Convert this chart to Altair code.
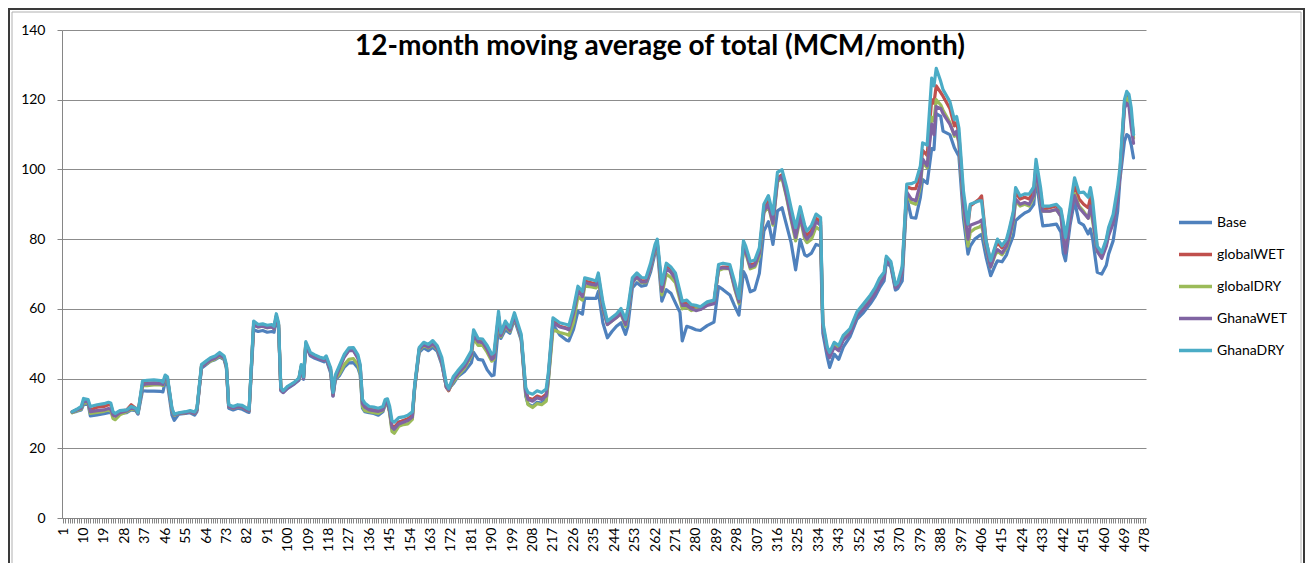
import altair as alt
import pandas as pd

TITLE = "12-month moving average of total (MCM/month)"
series_names = ["Base", "globalWET", "globalDRY", "GhanaWET", "GhanaDRY"]
colors = ["#4F81BD", "#C0504D", "#9BBB59", "#8064A2", "#4BACC6"]
x_ticks = list(range(1, 479))
y_ticks = [0, 20, 40, 60, 80, 100, 120, 140]

months = [5, 7, 9, 10, 12, 13, 16, 19, 21, 22, 23, 24, 26, 29, 31, 33, 34, 36, 38, 41,
          44, 45, 46, 47, 49, 50, 52, 55, 57, 59, 60, 62, 64, 66, 68, 70, 72, 73, 74, 76,
          78, 80, 82, 83, 85, 87, 89, 91, 93, 94, 95, 96, 97, 98, 100, 103, 105, 106, 107, 108,
          110, 112, 114, 116, 117, 119, 120, 121, 123, 125, 127, 129, 131, 132, 133, 134, 136, 138, 140, 142,
          143, 144, 145, 146, 147, 149, 151, 153, 155, 156, 158, 160, 162, 164, 166, 168, 170, 171, 173, 175,
          178, 181, 182, 184, 186, 188, 190, 191, 193, 194, 196, 198, 200, 203, 205, 206, 208, 210, 212, 214,
          215, 217, 220, 223, 224, 226, 228, 230, 231, 234, 236, 237, 239, 241, 243, 245, 247, 249, 250, 252,
          254, 256, 258, 260, 262, 263, 265, 267, 269, 271, 273, 274, 276, 278, 280, 282, 285, 288, 290, 292,
          295, 297, 299, 301, 302, 304, 306, 308, 310, 312, 314, 316, 318, 320, 322, 324, 326, 328, 329, 331,
          333, 335, 336, 338, 339, 341, 343, 345, 348, 351, 354, 357, 359, 361, 363, 364, 366, 368, 369, 371,
          373, 375, 377, 379, 380, 382, 384, 385, 386, 388, 389, 392, 394, 395, 396, 398, 400, 401, 403, 405,
          406, 408, 410, 412, 413, 415, 417, 418, 420, 421, 423, 425, 427, 429, 430, 432, 433, 436, 439, 441,
          442, 443, 445, 447, 449, 451, 453, 454, 455, 457, 459, 461, 462, 464, 466, 467, 469, 470, 471, 472,
          473]

ghana_dry = [30.5, 31.2, 32.0, 34.3, 34.0, 32.0, 32.5, 32.8, 33.2, 33.0, 30.5, 30.0, 30.8, 31.0, 32.0, 31.5, 30.2, 39.3, 39.5, 39.6,
             39.4, 39.0, 41.0, 40.5, 31.5, 29.8, 30.2, 30.5, 30.8, 30.4, 31.5, 44.0, 45.0, 46.0, 46.5, 47.5, 46.5, 44.0, 32.5, 32.0,
             32.5, 32.3, 31.5, 31.2, 56.5, 55.5, 55.7, 55.3, 55.5, 55.0, 58.6, 56.0, 37.5, 36.5, 37.8, 39.0, 40.2, 44.0, 40.5, 50.6,
             47.5, 46.8, 46.2, 45.8, 46.5, 43.0, 36.0, 41.0, 44.0, 47.0, 48.8, 48.9, 46.8, 44.0, 34.0, 33.0, 32.0, 31.8, 31.5, 32.0,
             34.0, 34.2, 32.0, 28.0, 27.5, 28.8, 29.0, 29.5, 30.5, 38.0, 48.9, 50.4, 49.8, 50.9, 49.4, 46.0, 38.5, 37.2, 40.5, 42.2,
             44.5, 48.0, 54.0, 51.5, 51.3, 49.5, 47.0, 47.5, 59.3, 53.1, 56.5, 54.6, 58.9, 52.7, 37.4, 36.0, 35.5, 36.5, 36.0, 37.0,
             42.0, 57.4, 56.0, 55.5, 55.2, 60.0, 66.5, 65.0, 68.9, 68.4, 68.0, 70.3, 62.0, 56.5, 57.5, 58.5, 60.1, 57.0, 60.0, 68.9,
             70.3, 69.0, 68.9, 73.0, 78.4, 80.0, 67.0, 73.1, 72.0, 70.3, 65.0, 62.2, 62.5, 61.2, 61.0, 60.6, 62.0, 62.5, 72.7, 73.1,
             72.7, 68.0, 63.0, 79.5, 78.0, 73.6, 74.0, 77.5, 90.0, 92.5, 87.2, 99.2, 99.9, 95.0, 89.0, 83.3, 89.3, 84.0, 82.3, 84.0,
             87.2, 86.2, 56.2, 49.0, 47.5, 50.4, 49.5, 52.4, 54.3, 59.1, 61.5, 64.0, 66.0, 68.8, 70.5, 75.1, 73.6, 66.9, 67.5, 72.2,
             95.8, 95.9, 96.5, 101.0, 107.6, 107.0, 126.2, 124.0, 129.0, 125.2, 122.9, 119.5, 114.3, 115.2, 111.9, 93.8, 84.3, 90.0, 90.5, 91.0,
             91.0, 79.5, 73.8, 78.0, 80.0, 78.1, 80.0, 82.4, 88.0, 94.8, 92.4, 93.0, 92.9, 95.0, 102.9, 94.8, 89.5, 89.5, 90.0, 88.6,
             85.0, 80.5, 89.0, 97.6, 93.3, 93.5, 92.0, 94.8, 91.0, 78.0, 76.2, 80.0, 83.3, 87.1, 95.0, 100.5, 120.0, 122.4, 121.5, 117.6,
             110.0]

global_wet = [30.5, 31.0, 31.8, 33.5, 33.5, 31.0, 31.8, 32.0, 32.5, 32.4, 30.2, 29.8, 30.6, 31.0, 32.5, 31.5, 30.3, 38.5, 38.7, 38.8,
              38.7, 38.5, 40.5, 40.0, 31.0, 29.6, 30.0, 30.2, 30.5, 30.0, 31.0, 43.5, 44.5, 45.5, 46.0, 47.0, 46.0, 43.5, 32.0, 31.5,
              32.0, 31.8, 31.0, 30.8, 55.5, 55.0, 55.2, 54.8, 55.0, 54.5, 58.0, 55.5, 37.0, 36.2, 37.5, 38.8, 40.0, 43.5, 40.2, 50.0,
              47.0, 46.3, 45.8, 45.3, 46.0, 42.5, 35.5, 40.5, 43.5, 46.5, 48.2, 48.2, 46.0, 43.5, 33.2, 32.0, 31.2, 31.0, 30.8, 31.3,
              33.3, 33.5, 31.0, 26.5, 26.0, 27.5, 28.0, 28.5, 29.5, 37.5, 48.5, 50.0, 49.3, 50.4, 48.9, 45.0, 37.5, 36.5, 39.5, 41.5,
              44.0, 47.5, 53.0, 50.8, 50.5, 48.5, 46.0, 46.5, 58.0, 52.5, 55.5, 54.0, 58.0, 52.0, 36.5, 34.5, 34.0, 35.0, 34.5, 35.5,
              41.0, 56.5, 55.0, 54.5, 54.2, 59.0, 65.5, 64.0, 68.0, 67.5, 67.2, 69.5, 61.0, 55.8, 57.0, 58.0, 59.5, 56.0, 59.0, 68.0,
              69.5, 68.0, 68.0, 72.0, 77.5, 79.0, 65.5, 72.5, 71.5, 69.5, 64.0, 61.5, 61.5, 60.5, 60.5, 60.2, 61.5, 62.0, 71.5, 72.0,
              72.0, 67.0, 62.0, 78.5, 77.0, 72.5, 73.0, 76.5, 88.5, 91.0, 85.5, 97.5, 98.5, 93.5, 87.5, 82.0, 88.0, 82.5, 81.0, 82.5,
              86.0, 85.0, 55.5, 48.0, 46.5, 49.5, 48.5, 51.5, 53.5, 58.5, 60.5, 63.0, 65.0, 67.5, 69.5, 74.5, 73.0, 66.5, 67.0, 71.0,
              95.0, 94.5, 94.5, 99.0, 105.5, 104.0, 120.0, 119.0, 124.0, 122.0, 121.0, 117.5, 112.5, 113.5, 110.0, 92.0, 84.0, 89.5, 90.5, 91.5,
              92.4, 79.5, 73.5, 77.5, 79.0, 77.5, 79.5, 81.5, 87.5, 93.5, 91.5, 92.0, 91.5, 94.0, 101.5, 93.5, 88.5, 89.0, 89.5, 88.0,
              84.0, 79.0, 88.0, 95.5, 91.5, 90.0, 89.0, 92.0, 88.0, 77.5, 75.5, 79.5, 82.5, 86.0, 93.0, 99.0, 119.0, 121.5, 120.5, 115.0,
              110.0]

global_dry = [30.2, 30.8, 31.3, 33.0, 33.0, 30.0, 30.3, 30.6, 31.0, 30.8, 28.5, 28.2, 29.6, 30.5, 31.2, 31.0, 30.0, 38.0, 38.0, 38.2,
              38.2, 38.0, 40.2, 39.8, 30.8, 29.5, 30.0, 30.2, 30.4, 30.0, 31.0, 43.5, 44.2, 45.0, 45.6, 46.5, 45.6, 43.5, 32.0, 31.5,
              32.0, 31.8, 31.0, 30.8, 55.5, 54.8, 55.0, 54.6, 54.8, 54.3, 57.8, 55.3, 37.0, 36.2, 37.5, 38.8, 40.0, 43.5, 40.2, 50.0,
              47.0, 46.3, 45.8, 45.3, 46.0, 42.0, 35.3, 40.0, 41.5, 44.0, 45.5, 45.7, 44.0, 41.5, 32.0, 30.8, 30.5, 30.2, 30.0, 30.8,
              32.8, 33.0, 30.0, 24.8, 24.3, 26.3, 26.8, 27.0, 28.3, 37.0, 48.0, 49.5, 48.8, 49.8, 48.4, 44.5, 37.5, 36.7, 39.0, 40.8,
              43.0, 46.5, 51.5, 49.5, 49.5, 47.5, 45.0, 45.5, 57.0, 52.0, 55.0, 53.5, 57.5, 51.5, 35.5, 32.5, 31.7, 32.8, 32.5, 33.5,
              39.5, 54.0, 53.2, 52.7, 52.4, 56.0, 63.5, 62.5, 66.5, 66.3, 66.0, 68.0, 60.0, 55.5, 56.5, 57.5, 58.5, 55.0, 58.0, 67.5,
              69.0, 67.5, 67.5, 71.5, 77.0, 78.5, 64.0, 70.0, 69.0, 67.5, 62.5, 60.0, 60.5, 59.5, 60.0, 60.0, 61.2, 61.8, 71.0, 71.5,
              71.5, 66.0, 61.5, 77.5, 76.0, 71.5, 72.0, 75.0, 87.5, 89.5, 84.0, 96.5, 97.5, 92.0, 85.5, 79.5, 86.0, 80.0, 79.0, 80.0,
              83.5, 82.5, 55.0, 48.0, 46.5, 49.5, 48.5, 51.5, 53.5, 58.0, 60.3, 63.0, 65.0, 67.5, 69.5, 74.3, 72.8, 66.3, 66.8, 70.5,
              93.0, 90.5, 90.0, 95.0, 102.0, 100.5, 115.0, 114.0, 120.0, 118.5, 117.0, 113.5, 109.5, 110.5, 107.5, 89.0, 78.0, 82.0, 83.0, 83.5,
              84.0, 77.5, 72.0, 75.5, 76.5, 75.5, 77.5, 79.5, 85.0, 91.0, 89.5, 90.0, 89.5, 92.0, 100.0, 91.0, 88.0, 88.0, 88.5, 86.5,
              81.0, 76.5, 86.0, 93.0, 89.5, 88.0, 86.0, 88.5, 85.0, 76.5, 75.0, 78.5, 81.5, 85.0, 92.5, 98.5, 118.5, 120.5, 119.5, 114.0,
              109.0]

ghana_wet = [30.4, 31.0, 31.5, 33.5, 33.3, 30.5, 30.8, 31.0, 31.4, 31.2, 29.5, 29.2, 30.2, 30.7, 31.5, 31.2, 30.0, 38.2, 38.5, 38.6,
             38.5, 38.3, 40.4, 40.0, 31.0, 29.6, 30.0, 30.2, 30.4, 30.0, 31.0, 43.3, 44.3, 45.3, 45.8, 46.8, 45.8, 43.5, 32.0, 31.5,
             32.0, 31.8, 31.0, 30.8, 55.3, 54.8, 55.0, 54.6, 54.8, 54.3, 57.8, 55.3, 36.8, 36.0, 37.3, 38.6, 39.8, 43.3, 40.0, 49.8,
             46.8, 46.2, 45.6, 45.2, 45.8, 42.0, 35.0, 40.0, 43.2, 46.2, 48.0, 48.0, 45.8, 43.2, 32.8, 31.8, 31.0, 30.8, 30.6, 31.0,
             33.0, 33.2, 30.5, 26.0, 25.5, 27.0, 27.5, 28.0, 29.0, 37.3, 48.3, 49.8, 49.0, 50.0, 48.6, 44.5, 37.5, 36.8, 39.5, 41.3,
             43.5, 47.0, 52.5, 50.5, 50.3, 48.3, 45.5, 46.0, 57.8, 52.3, 55.3, 53.8, 57.8, 51.8, 36.0, 34.0, 33.5, 34.5, 34.0, 35.0,
             40.5, 56.0, 54.8, 54.3, 54.0, 58.5, 65.0, 63.5, 67.5, 67.0, 66.8, 69.0, 60.5, 55.5, 56.5, 57.5, 58.8, 55.5, 58.5, 67.5,
             69.2, 67.7, 67.7, 71.7, 77.3, 78.8, 65.0, 71.5, 70.5, 68.5, 63.5, 61.0, 61.0, 60.0, 59.5, 59.8, 61.0, 61.5, 71.5, 71.8,
             71.5, 66.5, 62.0, 78.0, 76.5, 72.0, 72.5, 76.0, 88.0, 90.0, 84.5, 97.0, 98.0, 92.5, 86.0, 80.5, 86.5, 81.0, 80.0, 81.5,
             85.0, 84.0, 55.0, 47.5, 46.0, 49.0, 48.0, 51.0, 53.0, 58.0, 60.0, 62.5, 64.5, 67.0, 69.0, 74.0, 72.5, 66.0, 66.5, 70.5,
             93.5, 91.5, 91.0, 96.0, 103.0, 101.0, 113.0, 110.0, 118.0, 117.5, 116.0, 113.0, 110.0, 111.0, 108.0, 90.0, 80.0, 84.0, 84.5, 85.0,
             85.5, 78.0, 72.0, 76.0, 77.0, 76.0, 78.0, 80.0, 85.5, 91.5, 90.0, 90.5, 90.0, 92.5, 100.5, 91.5, 88.0, 88.0, 88.5, 86.5,
             80.5, 76.0, 85.5, 92.5, 89.0, 87.5, 86.0, 89.5, 86.0, 76.5, 74.5, 78.0, 81.0, 84.5, 92.0, 98.0, 117.5, 119.0, 118.0, 112.0,
             107.5]

base = [30.3, 30.6, 31.0, 32.5, 32.8, 29.3, 29.6, 29.9, 30.2, 30.2, 29.8, 29.5, 30.0, 30.2, 31.0, 30.8, 29.8, 36.5, 36.4, 36.4,
        36.3, 36.2, 39.0, 38.5, 29.5, 28.0, 29.8, 30.0, 30.2, 29.5, 30.5, 43.0, 44.0, 45.0, 45.4, 46.2, 45.4, 43.0, 31.5, 31.0,
        31.5, 31.2, 30.5, 30.3, 54.0, 53.5, 53.8, 53.3, 53.5, 53.3, 57.0, 54.5, 36.5, 36.0, 37.2, 38.5, 39.5, 43.0, 39.8, 49.5,
        46.5, 45.8, 45.3, 44.8, 45.5, 41.5, 35.0, 39.5, 41.0, 43.3, 44.5, 44.6, 43.0, 41.0, 31.5, 30.5, 30.2, 30.0, 29.5, 30.5,
        32.5, 32.8, 30.5, 25.5, 25.0, 27.5, 27.8, 28.0, 29.0, 37.5, 47.5, 48.8, 48.0, 49.0, 47.8, 44.0, 37.5, 37.0, 38.5, 40.5,
        42.0, 44.5, 47.5, 45.5, 45.3, 42.5, 40.8, 41.0, 55.0, 51.5, 54.0, 53.0, 57.0, 51.0, 35.0, 32.7, 32.0, 33.2, 33.0, 34.0,
        40.0, 55.5, 52.5, 51.0, 50.8, 54.0, 59.3, 58.5, 63.1, 63.0, 63.0, 65.0, 56.0, 51.7, 53.5, 55.0, 56.0, 52.7, 55.0, 66.0,
        67.5, 66.5, 66.8, 70.5, 76.0, 77.5, 62.2, 65.5, 64.5, 61.7, 59.0, 50.8, 55.0, 54.6, 54.0, 53.8, 55.2, 56.2, 66.4, 65.5,
        64.0, 61.0, 58.2, 70.7, 69.5, 64.9, 65.5, 70.2, 82.3, 85.0, 78.5, 88.1, 89.0, 84.0, 79.0, 71.2, 79.9, 75.5, 75.1, 76.0,
        78.5, 78.0, 53.0, 46.0, 43.2, 47.0, 45.5, 49.0, 52.0, 57.0, 59.0, 61.5, 63.5, 66.0, 68.0, 73.5, 72.0, 65.4, 65.8, 68.0,
        92.0, 86.2, 86.0, 92.0, 97.1, 96.0, 106.0, 105.7, 116.0, 115.2, 111.0, 110.0, 106.2, 105.0, 103.8, 86.0, 75.7, 78.0, 80.0, 81.0,
        81.4, 74.8, 69.5, 72.5, 73.8, 73.5, 75.5, 77.6, 81.0, 85.3, 86.5, 87.5, 88.1, 90.0, 97.5, 88.0, 83.8, 84.0, 84.3, 82.0,
        76.0, 73.8, 84.0, 91.0, 84.8, 84.0, 81.5, 82.9, 80.0, 70.5, 70.0, 72.5, 75.7, 79.5, 88.0, 97.0, 108.0, 110.0, 109.5, 107.0,
        103.3]

all_series = [base, global_wet, global_dry, ghana_wet, ghana_dry]
rows = []
for name, vals in zip(series_names, all_series):
    for m, v in zip(months, vals):
        rows.append({"month": m, "value": v, "series": name})
df = pd.DataFrame(rows)

FONT = "Lato"
W, H = 1084, 488
GRID = "#8c8c8c"

lines = alt.Chart(df).mark_line(strokeWidth=3.2, strokeJoin="round", strokeCap="round").encode(
    x=alt.X("month:Q",
            scale=alt.Scale(domain=[0.5, 478.5], nice=False, zero=False),
            axis=alt.Axis(values=x_ticks, title=None, grid=False,
                          labelExpr="(datum.value - 1) % 9 == 0 ? '' + datum.value : ''",
                          labelAngle=270, labelOverlap=False, labelBound=False, labelFlush=False,
                          labelFont=FONT, labelFontSize=14, labelColor="#000000", labelPadding=4,
                          tickSize=5, tickColor="#868686", domainColor="#868686")),
    y=alt.Y("value:Q",
            scale=alt.Scale(domain=[0, 140], nice=False),
            axis=alt.Axis(values=y_ticks, title=None, grid=True, gridColor=GRID, gridWidth=1,
                          labelFont=FONT, labelFontSize=14, labelColor="#000000", labelPadding=12,
                          tickSize=5, tickColor="#868686", domainColor="#868686")),
    color=alt.Color("series:N",
                    scale=alt.Scale(domain=series_names, range=colors),
                    sort=series_names,
                    legend=alt.Legend(title=None, orient="none", legendX=1115, legendY=174,
                                      symbolType="stroke", symbolSize=1089, symbolStrokeWidth=3.5,
                                      labelFont=FONT, labelFontSize=14, labelColor="#000000",
                                      labelOffset=3, rowPadding=6, padding=0)),
)

title_df = pd.DataFrame({"t": [TITLE]})
title = alt.Chart(title_df).mark_text(font=FONT, fontSize=28, fontWeight="bold", align="center",
                                      baseline="middle", color="#000000").encode(
    x=alt.value(598), y=alt.value(17), text="t:N")

box_df = pd.DataFrame({"b": [1]})
outer = alt.Chart(box_df).mark_rect(fillOpacity=0, stroke="#3a3a3a", strokeWidth=2).encode(
    x=alt.value(-53), x2=alt.value(1242), y=alt.value(-21), y2=alt.value(570))
inner = alt.Chart(box_df).mark_rect(fillOpacity=0, stroke="#b0b0b0", strokeWidth=1).encode(
    x=alt.value(-50), x2=alt.value(1239), y=alt.value(-18), y2=alt.value(570))

chart = alt.layer(outer, inner, lines, title).properties(
    width=W, height=H,
    autosize=alt.AutoSizeParams(type="none"),
    padding={"left": 54, "top": 22, "right": 160, "bottom": 45},
).configure_view(stroke=None)

chart.save("out.html", embed_options={"renderer": "svg", "actions": False})
